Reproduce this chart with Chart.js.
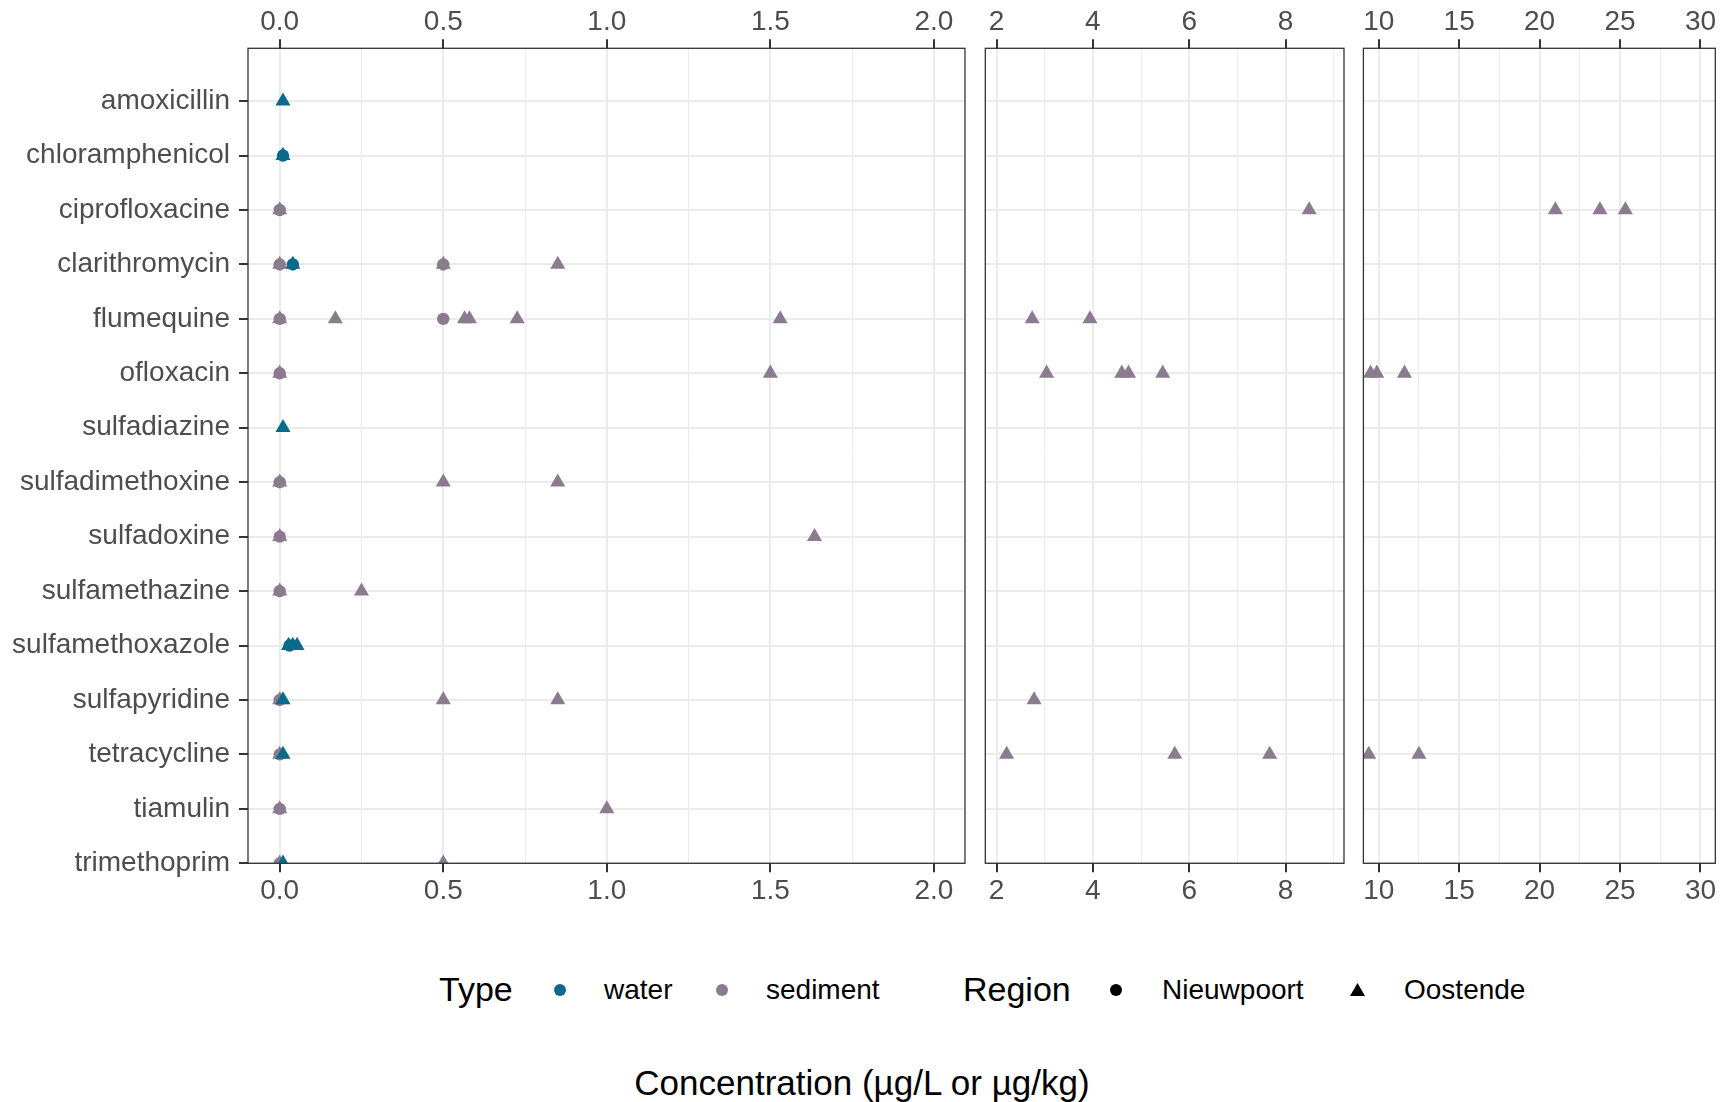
<!DOCTYPE html>
<html>
<head>
<meta charset="utf-8">
<script src="https://cdn.jsdelivr.net/npm/chart.js@4/dist/chart.umd.min.js"></script>
<style>
  html, body { margin: 0; padding: 0; background: #ffffff; }
  body { width: 1724px; height: 1102px; position: relative; overflow: hidden;
         font-family: "Liberation Sans", Arial, sans-serif; }
  .panel { position: absolute; top: 0; height: 930px; }
  .txt { position: absolute; white-space: nowrap; color: #000; line-height: 1; }
  .dot { position: absolute; width: 12px; height: 12px; border-radius: 50%; }
  .tri { position: absolute; width: 15px; height: 13px; background: #000;
         clip-path: polygon(50% 0, 100% 100%, 0 100%); }
</style>
</head>
<body>
<div class="panel" id="p1" style="left:0px;width:975px;"><canvas id="c1"></canvas></div>
<div class="panel" id="p2" style="left:975px;width:379px;"><canvas id="c2"></canvas></div>
<div class="panel" id="p3" style="left:1354px;width:370px;"><canvas id="c3"></canvas></div>

<!-- legend -->
<div class="txt" style="left:439px;top:972px;font-size:34px;">Type</div>
<div class="dot" style="left:554px;top:984px;background:#0b6a8b;"></div>
<div class="txt" style="left:604px;top:976px;font-size:28px;">water</div>
<div class="dot" style="left:716px;top:984px;background:#8b7b8e;"></div>
<div class="txt" style="left:766px;top:976px;font-size:28px;">sediment</div>
<div class="txt" style="left:963px;top:972px;font-size:34px;">Region</div>
<div class="dot" style="left:1110px;top:984px;background:#000;"></div>
<div class="txt" style="left:1162px;top:976px;font-size:28px;">Nieuwpoort</div>
<div class="tri" style="left:1350px;top:983px;"></div>
<div class="txt" style="left:1404px;top:976px;font-size:28px;">Oostende</div>
<div class="txt" style="left:0;width:1724px;text-align:center;top:1065px;font-size:35px;">Concentration (µg/L or µg/kg)</div>

<script>
// ---------------- data ----------------
const compounds = ['amoxicillin','chloramphenicol','ciprofloxacine','clarithromycin','flumequine',
  'ofloxacin','sulfadiazine','sulfadimethoxine','sulfadoxine','sulfamethazine','sulfamethoxazole',
  'sulfapyridine','tetracycline','tiamulin','trimethoprim'];

const waterOostende = [['amoxicillin',0.01],['chloramphenicol',0.01],['clarithromycin',0.04],
  ['sulfadiazine',0.01],['sulfamethoxazole',0.027],['sulfamethoxazole',0.04],['sulfamethoxazole',0.053],
  ['sulfapyridine',0.01],['tetracycline',0.01],['trimethoprim',0.01]];
const waterNieuwpoort = [['chloramphenicol',0.01],['clarithromycin',0.04],['sulfamethoxazole',0.03]];
const sedimentNieuwpoort = [['ciprofloxacine',0],['clarithromycin',0],['clarithromycin',0.5],
  ['flumequine',0],['flumequine',0.5],['ofloxacin',0],['sulfadimethoxine',0],['sulfadoxine',0],
  ['sulfamethazine',0],['sulfapyridine',0],['tetracycline',0],['tiamulin',0],['trimethoprim',0]];
const sedimentOostende = [
  ['ciprofloxacine',0],['ciprofloxacine',8.49],['ciprofloxacine',20.98],['ciprofloxacine',23.75],['ciprofloxacine',25.33],
  ['clarithromycin',0],['clarithromycin',0.5],['clarithromycin',0.85],
  ['flumequine',0],['flumequine',0.17],['flumequine',0.565],['flumequine',0.58],['flumequine',0.726],
  ['flumequine',1.53],['flumequine',2.74],['flumequine',3.94],
  ['ofloxacin',0],['ofloxacin',1.5],['ofloxacin',3.04],['ofloxacin',4.6],['ofloxacin',4.74],['ofloxacin',5.45],
  ['ofloxacin',9.49],['ofloxacin',9.88],['ofloxacin',11.6],
  ['sulfadimethoxine',0],['sulfadimethoxine',0.5],['sulfadimethoxine',0.85],
  ['sulfadoxine',0],['sulfadoxine',1.635],
  ['sulfamethazine',0],['sulfamethazine',0.25],
  ['sulfapyridine',0],['sulfapyridine',0.5],['sulfapyridine',0.85],['sulfapyridine',2.78],
  ['tetracycline',0],['tetracycline',2.21],['tetracycline',5.7],['tetracycline',7.67],['tetracycline',9.38],['tetracycline',12.5],
  ['tiamulin',0],['tiamulin',1.0],
  ['trimethoprim',0],['trimethoprim',0.5]];

const panel1Major = [0, 0.5, 1, 1.5, 2];
const panel1Minor = [0.25, 0.75, 1.25, 1.75];
const panel2Major = [2, 4, 6, 8];
const panel2Minor = [3, 5, 7, 9];
const panel3Major = [10, 15, 20, 25, 30];
const panel3Minor = [12.5, 17.5, 22.5, 27.5];

// ---------------- styling ----------------
const WATER = '#0b6a8b', SEDIMENT = '#8b7b8e';
const FONT = '"Liberation Sans", Arial, sans-serif';
const TEXT = '#4d4d4d', GRID = '#ebebeb', DARK = '#333333';
const TOP_H = 48.3, BOTTOM_Y = 863.3, CANVAS_H = 930;

function toPoints(series) {
  return series.map(([c, v]) => ({ x: v, y: compounds.indexOf(c) }));
}

function datasets() {
  return [
    { label: 'water Oostende', data: toPoints(waterOostende), pointStyle: 'triangle', pointRadius: 8.7, backgroundColor: WATER },
    { label: 'water Nieuwpoort', data: toPoints(waterNieuwpoort), pointStyle: 'circle', pointRadius: 6.2, backgroundColor: WATER },
    { label: 'sediment Oostende', data: toPoints(sedimentOostende), pointStyle: 'triangle', pointRadius: 8.7, backgroundColor: SEDIMENT },
    { label: 'sediment Nieuwpoort', data: toPoints(sedimentNieuwpoort), pointStyle: 'circle', pointRadius: 6.2, backgroundColor: SEDIMENT }
  ].map(d => Object.assign(d, { borderWidth: 0, pointHoverRadius: d.pointRadius, clip: 0 }));
}

const borderPlugin = {
  id: 'panelBorder',
  afterDraw(chart) {
    const a = chart.chartArea, ctx = chart.ctx;
    ctx.save();
    ctx.strokeStyle = DARK;
    ctx.lineWidth = 1.3;
    ctx.strokeRect(a.left, a.top, a.right - a.left, a.bottom - a.top);
    ctx.restore();
  }
};

function xScale(position, min, max, major, minor, fmt) {
  const all = major.concat(minor).sort((a, b) => a - b);
  const isMajor = v => major.indexOf(v) >= 0;
  return {
    type: 'linear', position, min, max,
    afterBuildTicks: s => { s.ticks = all.map(v => ({ value: v })); },
    afterFit: s => {
      s.height = position === 'top' ? TOP_H : CANVAS_H - BOTTOM_Y;
      s.paddingLeft = 0; s.paddingRight = 0;
    },
    ticks: {
      autoSkip: false, maxRotation: 0, minRotation: 0,
      padding: position === 'top' ? 0 : 2,
      color: TEXT, font: { family: FONT, size: 28 },
      callback: v => isMajor(v) ? fmt(v) : ''
    },
    grid: {
      drawOnChartArea: position === 'bottom',
      color: GRID,
      lineWidth: c => (c.tick && isMajor(c.tick.value)) ? 2 : 1,
      tickColor: c => (c.tick && isMajor(c.tick.value)) ? DARK : 'rgba(0,0,0,0)',
      tickWidth: 2, tickLength: 9, drawTicks: true
    },
    border: { display: false }
  };
}

function yScale(showLabels) {
  return {
    type: 'linear', reverse: true, min: -0.97, max: 14,
    afterBuildTicks: s => { s.ticks = compounds.map((c, i) => ({ value: i })); },
    afterFit: s => { s.width = showLabels ? 248 : 0; s.paddingTop = 0; s.paddingBottom = 0; },
    ticks: {
      display: showLabels, autoSkip: false, padding: 9,
      color: TEXT, font: { family: FONT, size: 28 },
      callback: v => compounds[v]
    },
    grid: {
      color: GRID, lineWidth: 2,
      drawTicks: showLabels, tickLength: showLabels ? 9 : 0,
      tickColor: DARK, tickWidth: 2
    },
    border: { display: false }
  };
}

function makeChart(id, min, max, major, minor, fmt, showY, padLeft, padRight) {
  return new Chart(document.getElementById(id), {
    type: 'scatter',
    data: { datasets: datasets() },
    options: {
      responsive: true, maintainAspectRatio: false, animation: false,
      events: [],
      layout: { padding: { left: padLeft, right: padRight, top: 0, bottom: 0 } },
      plugins: { legend: { display: false }, tooltip: { enabled: false } },
      scales: {
        y: yScale(showY),
        x: xScale('bottom', min, max, major, minor, fmt),
        xTop: xScale('top', min, max, major, minor, fmt)
      }
    },
    plugins: [borderPlugin]
  });
}

makeChart('c1', -0.097, 2.095, panel1Major, panel1Minor, v => v.toFixed(1), true, 0, 10);
makeChart('c2', 1.767, 9.213, panel2Major, panel2Minor, v => String(v), false, 10.3, 10);
makeChart('c3', 9.047, 30.92, panel3Major, panel3Minor, v => String(v), false, 9.4, 2.5);
</script>
</body>
</html>
